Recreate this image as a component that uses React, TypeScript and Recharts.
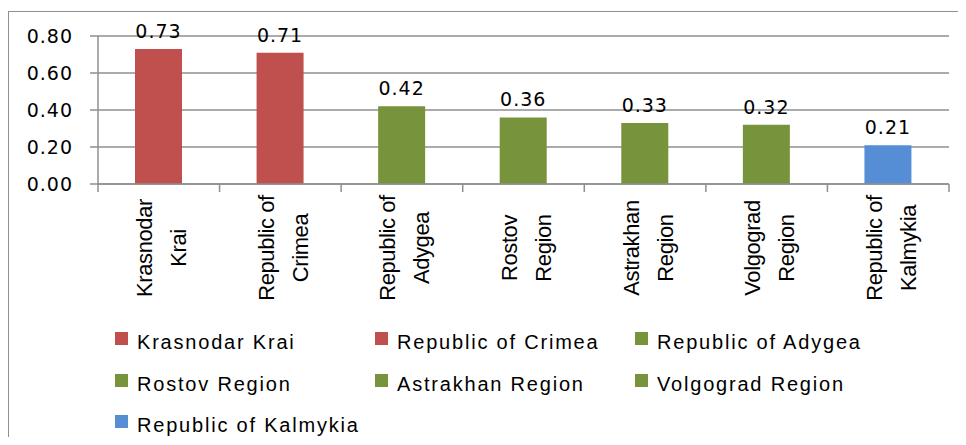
import React from "react";
import {
  BarChart,
  Bar,
  XAxis,
  YAxis,
  CartesianGrid,
  Cell,
  LabelList,
  Legend,
} from "recharts";

const regions = [
  "Krasnodar Krai",
  "Republic of Crimea",
  "Republic of Adygea",
  "Rostov Region",
  "Astrakhan Region",
  "Volgograd Region",
  "Republic of Kalmykia",
];
const tickLines = [
  ["Krasnodar", "Krai"],
  ["Republic of", "Crimea"],
  ["Republic of", "Adygea"],
  ["Rostov", "Region"],
  ["Astrakhan", "Region"],
  ["Volgograd", "Region"],
  ["Republic of", "Kalmykia"],
];
const values = [0.73, 0.71, 0.42, 0.36, 0.33, 0.32, 0.21];
const colors = ["#C0504D", "#C0504D", "#77933C", "#77933C", "#77933C", "#77933C", "#558ED5"];
const yTicks = [0, 0.2, 0.4, 0.6, 0.8];

const data = regions.map((name, i) => ({ name, value: values[i] }));

const GRID = "#8f8f8f";
const W = 957;
const H = 433;
const PLOT_LEFT = 89;
const PLOT_RIGHT = 940;
const BAND = (PLOT_RIGHT - PLOT_LEFT) / regions.length;

function CategoryTick(props: any) {
  const { x, y, payload } = props;
  const lines = tickLines[payload.index] || [payload.value];
  const right = x + BAND / 2;
  const left = x - BAND / 2;
  return (
    <g>
      {payload.index === 0 && (
        <line x1={left} y1={y} x2={left} y2={y + 8} stroke={GRID} strokeWidth={1.5} />
      )}
      <line x1={right} y1={y} x2={right} y2={y + 8} stroke={GRID} strokeWidth={1.5} />
      <g transform={`translate(${x},${y + 64}) rotate(-90)`}>
        {lines.map((t: string, i: number) => (
          <text
            key={i}
            x={0}
            y={i === 0 ? -6.5 : 27.5}
            textAnchor="middle"
            fontFamily="'Liberation Sans', Arial, sans-serif"
            fontSize={22}
            letterSpacing={-0.4}
            fill="#000"
          >
            {t}
          </text>
        ))}
      </g>
    </g>
  );
}

function LegendBox() {
  return (
    <div style={{ position: "relative", width: W, height: 0 }}>
      {regions.map((name, i) => (
        <div
          key={name}
          style={{
            position: "absolute",
            left: 106 + (i % 3) * 260,
            top: 320 + Math.floor(i / 3) * 41.5,
            display: "flex",
            alignItems: "flex-start",
            whiteSpace: "nowrap",
          }}
        >
          <span
            style={{
              display: "inline-block",
              width: 13,
              height: 13,
              background: colors[i],
            }}
          />
          <span
            style={{
              marginLeft: 9,
              marginTop: 0,
              fontFamily: "'Liberation Sans', Arial, sans-serif",
              fontSize: 20,
              lineHeight: "20px",
              letterSpacing: 1.8,
              color: "#000",
            }}
          >
            {name}
          </span>
        </div>
      ))}
    </div>
  );
}

export default function App() {
  return (
    <div style={{ paddingTop: 3 }}>
      <div
        style={{
          width: W + 1,
          height: H + 1,
          marginBottom: -8,
          boxSizing: "border-box",
          borderTop: `1px solid ${GRID}`,
          borderLeft: `1px solid ${GRID}`,
        }}
      >
        <BarChart
          width={W}
          height={H}
          data={data}
          margin={{ top: 24, right: W - PLOT_RIGHT, bottom: H - 172 - 150, left: 9 }}
        >
          <CartesianGrid vertical={false} stroke={GRID} strokeWidth={1.5} />
          <XAxis
            dataKey="name"
            interval={0}
            height={150}
            tickLine={false}
            tickSize={0}
            tickMargin={0}
            axisLine={{ stroke: GRID, strokeWidth: 1.5 }}
            tick={<CategoryTick />}
          />
          <YAxis
            width={80}
            domain={[0, 0.8]}
            ticks={yTicks}
            tickFormatter={(v: number) => v.toFixed(2)}
            axisLine={{ stroke: GRID, strokeWidth: 1.5 }}
            tickLine={{ stroke: GRID, strokeWidth: 1.5 }}
            tickSize={8}
            tickMargin={17}
            tick={{
              fill: "#000",
              fontSize: 19,
              fontFamily: "'DejaVu Sans', Verdana, sans-serif",
              letterSpacing: 1,
            }}
          />
          <Bar dataKey="value" barSize={47} isAnimationActive={false}>
            {data.map((d, i) => (
              <Cell key={d.name} fill={colors[i]} />
            ))}
            <LabelList
              dataKey="value"
              position="top"
              offset={11}
              formatter={(v: any) => Number(v).toFixed(2)}
              style={{
                fill: "#000",
                fontSize: 19,
                fontFamily: "'DejaVu Sans', Verdana, sans-serif",
                letterSpacing: 1,
              }}
            />
          </Bar>
          <Legend
            content={<LegendBox />}
            wrapperStyle={{ left: 0, top: 0, width: W, height: 0 }}
          />
        </BarChart>
      </div>
    </div>
  );
}
